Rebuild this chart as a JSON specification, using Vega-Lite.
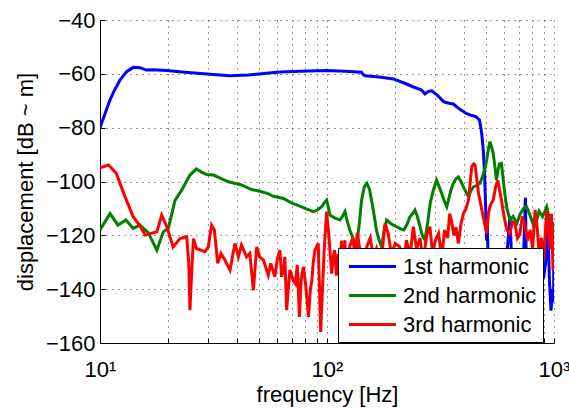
{
  "$schema": "https://vega.github.io/schema/vega-lite/v6.json",
  "width": 454,
  "height": 323,
  "autosize": {"type": "none"},
  "padding": {"left": 100, "top": 20, "right": 15, "bottom": 65},
  "config": {
    "font": "Liberation Sans",
    "view": {"stroke": null},
    "axis": {
      "domainColor": "#000",
      "domainWidth": 1,
      "tickColor": "#000",
      "tickSize": -5,
      "labelFontSize": 22,
      "labelColor": "#000",
      "labelFlush": false,
      "titleFontSize": 22,
      "titleFontWeight": "normal",
      "titleColor": "#000",
      "grid": true,
      "gridDash": [1, 5],
      "gridColor": "#333",
      "gridWidth": 1
    }
  },
  "datasets": {
    "h1": [
      {"f":10,"v":-80},{"f":10.5,"v":-75},{"f":11.07,"v":-69.7},{"f":11.6,"v":-66},{"f":12.25,"v":-62.3},{"f":13.1,"v":-59.2},{"f":14.0,"v":-57.6},{"f":15.0,"v":-57.7},{"f":16.0,"v":-58.6},{"f":17,"v":-58.5},{"f":19.7,"v":-58.8},{"f":23,"v":-59.3},{"f":29.5,"v":-60.1},{"f":37.4,"v":-60.7},{"f":45,"v":-60.4},{"f":54.2,"v":-59.8},{"f":62,"v":-59.3},{"f":76,"v":-59},{"f":99.6,"v":-58.8},{"f":120,"v":-59},{"f":142,"v":-59.4},{"f":144,"v":-60.2},{"f":147,"v":-60.7},{"f":170,"v":-61.2},{"f":196,"v":-61.9},{"f":220,"v":-63.5},{"f":239,"v":-64.8},{"f":261,"v":-66},{"f":270,"v":-67.5},{"f":280,"v":-66.5},{"f":289,"v":-66.3},{"f":305,"v":-67.8},{"f":327,"v":-70.4},{"f":345,"v":-70.9},{"f":360,"v":-71.2},{"f":385,"v":-73.2},{"f":411,"v":-74.7},{"f":435,"v":-75.5},{"f":453,"v":-75.9},{"f":470,"v":-77.2},{"f":480,"v":-82},{"f":488,"v":-88.3},{"f":495,"v":-98},{"f":500,"v":-110},{"f":505,"v":-122},{"f":508,"v":-116},{"f":512,"v":-126},{"f":520,"v":-135},{"f":540,"v":-140},{"f":560,"v":-130},{"f":580,"v":-145},{"f":600,"v":-132},{"f":620,"v":-127},{"f":640,"v":-113},{"f":650,"v":-128},{"f":680,"v":-140},{"f":700,"v":-130},{"f":730,"v":-135},{"f":748,"v":-106},{"f":755,"v":-130},{"f":780,"v":-138},{"f":810,"v":-128},{"f":840,"v":-142},{"f":870,"v":-130},{"f":900,"v":-136},{"f":925,"v":-128},{"f":940,"v":-115},{"f":955,"v":-137},{"f":970,"v":-148},{"f":985,"v":-140},{"f":995,"v":-145},{"f":1000,"v":-122}
    ],
    "h2": [
      {"f":10,"v":-118},{"f":11.07,"v":-111.9},{"f":12.0,"v":-116.2},{"f":13.0,"v":-114.3},{"f":14.0,"v":-117.4},{"f":15.0,"v":-116.2},{"f":16.3,"v":-119},{"f":17.8,"v":-125.5},{"f":19.0,"v":-118.7},{"f":20.0,"v":-117.4},{"f":21.4,"v":-107},{"f":22.9,"v":-103.2},{"f":24.9,"v":-97.6},{"f":26.6,"v":-95.3},{"f":28,"v":-96.5},{"f":29.5,"v":-97.4},{"f":31.6,"v":-97.6},{"f":34,"v":-98.8},{"f":36.8,"v":-100.1},{"f":42.0,"v":-101.3},{"f":46.5,"v":-103},{"f":50.6,"v":-103.6},{"f":55,"v":-104.5},{"f":58,"v":-105.5},{"f":64.3,"v":-106.3},{"f":70,"v":-108},{"f":75,"v":-109},{"f":80,"v":-110},{"f":87.1,"v":-111.2},{"f":91,"v":-110.5},{"f":94.8,"v":-109.4},{"f":97,"v":-108},{"f":99.6,"v":-106.9},{"f":101,"v":-109},{"f":103,"v":-112.5},{"f":108,"v":-113.5},{"f":114,"v":-114.3},{"f":117,"v":-113},{"f":120,"v":-111.2},{"f":123,"v":-115},{"f":126,"v":-118},{"f":130,"v":-121},{"f":135,"v":-124.3},{"f":139,"v":-115},{"f":142,"v":-106.9},{"f":146,"v":-102},{"f":150,"v":-100.7},{"f":154,"v":-103},{"f":157,"v":-106.9},{"f":161,"v":-112},{"f":165,"v":-118},{"f":170,"v":-122},{"f":174,"v":-124.3},{"f":178,"v":-119},{"f":183,"v":-114.3},{"f":190,"v":-115.5},{"f":196,"v":-116.2},{"f":203,"v":-116.8},{"f":210,"v":-117.5},{"f":218,"v":-118},{"f":225,"v":-116},{"f":232,"v":-113.1},{"f":238,"v":-112},{"f":244,"v":-110.6},{"f":250,"v":-113},{"f":257,"v":-116.8},{"f":263,"v":-120},{"f":270,"v":-121.8},{"f":278,"v":-115},{"f":285,"v":-108},{"f":294,"v":-103.2},{"f":304,"v":-99.5},{"f":312,"v":-102},{"f":320,"v":-104.4},{"f":328,"v":-107},{"f":337,"v":-109.4},{"f":345,"v":-106},{"f":352,"v":-103},{"f":360,"v":-100.7},{"f":370,"v":-99},{"f":379,"v":-98.3},{"f":389,"v":-100},{"f":399,"v":-102},{"f":410,"v":-104},{"f":420,"v":-105.7},{"f":430,"v":-103.5},{"f":442,"v":-102},{"f":455,"v":-101.5},{"f":472,"v":-100.7},{"f":485,"v":-98},{"f":497,"v":-95},{"f":505,"v":-92},{"f":514,"v":-88},{"f":522,"v":-85.2},{"f":530,"v":-87},{"f":540,"v":-89.6},{"f":550,"v":-95},{"f":558,"v":-99.5},{"f":566,"v":-96},{"f":575,"v":-93.5},{"f":587,"v":-93.3},{"f":595,"v":-98},{"f":607,"v":-104.4},{"f":620,"v":-110},{"f":640,"v":-114.3},{"f":660,"v":-113},{"f":685,"v":-115.6},{"f":710,"v":-112},{"f":735,"v":-110},{"f":757,"v":-109.4},{"f":780,"v":-112},{"f":810,"v":-116},{"f":839,"v":-114.3},{"f":860,"v":-111},{"f":890,"v":-113},{"f":929,"v":-109.4},{"f":955,"v":-114},{"f":980,"v":-119.3},{"f":1000,"v":-115}
    ],
    "h3": [
      {"f":10,"v":-94.9},{"f":10.9,"v":-93.9},{"f":11.8,"v":-97},{"f":12.9,"v":-105.7},{"f":14.0,"v":-113.1},{"f":15.0,"v":-116.5},{"f":15.8,"v":-119.9},{"f":17.8,"v":-118.7},{"f":18.7,"v":-112.5},{"f":19.7,"v":-116.8},{"f":21.0,"v":-124.3},{"f":22.5,"v":-121.2},{"f":24.1,"v":-120.5},{"f":24.6,"v":-130},{"f":24.9,"v":-147.8},{"f":25.3,"v":-135},{"f":25.8,"v":-121.2},{"f":26.6,"v":-124.9},{"f":29.0,"v":-126.1},{"f":30.0,"v":-124.3},{"f":31.0,"v":-116.2},{"f":31.9,"v":-118},{"f":33.0,"v":-130.4},{"f":34.1,"v":-126.7},{"f":35.5,"v":-129.2},{"f":37.4,"v":-132.9},{"f":39.3,"v":-123},{"f":40.7,"v":-128},{"f":42.0,"v":-123.6},{"f":44.2,"v":-128},{"f":45.7,"v":-126.7},{"f":47.4,"v":-140.4},{"f":49.0,"v":-124.3},{"f":50.5,"v":-128},{"f":52.5,"v":-129.2},{"f":55.1,"v":-134.8},{"f":56.5,"v":-130.4},{"f":58.9,"v":-135.4},{"f":60.5,"v":-128.6},{"f":62.0,"v":-125.5},{"f":63.1,"v":-135.4},{"f":64.5,"v":-131.7},{"f":65.2,"v":-128},{"f":66.4,"v":-147.8},{"f":68.6,"v":-132.9},{"f":70.9,"v":-136.7},{"f":72.5,"v":-137.9},{"f":74,"v":-131},{"f":75.6,"v":-150.3},{"f":77,"v":-136},{"f":78.7,"v":-131.7},{"f":80.5,"v":-138},{"f":82.9,"v":-150.3},{"f":84.5,"v":-140},{"f":85.8,"v":-136.7},{"f":87,"v":-130},{"f":88.5,"v":-125.5},{"f":91.5,"v":-123},{"f":93.8,"v":-155.9},{"f":95.5,"v":-140},{"f":97.2,"v":-125.5},{"f":99.6,"v":-111.2},{"f":102,"v":-120.5},{"f":104.8,"v":-134.2},{"f":106.5,"v":-128},{"f":108,"v":-125.5},{"f":110,"v":-135},{"f":112,"v":-127},{"f":114,"v":-131},{"f":116,"v":-122},{"f":118,"v":-138},{"f":120,"v":-121.8},{"f":122,"v":-157.7},{"f":124,"v":-130},{"f":126,"v":-124},{"f":130,"v":-121},{"f":133,"v":-128},{"f":136,"v":-119},{"f":140,"v":-126},{"f":145,"v":-132},{"f":150,"v":-124},{"f":155,"v":-121},{"f":160,"v":-128},{"f":165,"v":-125},{"f":172,"v":-133},{"f":180,"v":-115.6},{"f":186,"v":-119.3},{"f":192,"v":-127},{"f":200,"v":-123},{"f":209,"v":-124.3},{"f":216,"v":-132},{"f":224,"v":-121.8},{"f":232,"v":-128},{"f":240,"v":-116.8},{"f":248,"v":-125},{"f":257,"v":-121},{"f":265,"v":-130},{"f":275,"v":-120},{"f":284,"v":-116.8},{"f":292,"v":-127},{"f":300,"v":-122},{"f":310,"v":-119.3},{"f":320,"v":-128},{"f":330,"v":-118},{"f":340,"v":-121},{"f":347,"v":-111.9},{"f":353,"v":-114.3},{"f":362,"v":-120},{"f":370,"v":-117},{"f":379,"v":-123},{"f":389,"v":-116},{"f":399,"v":-111.9},{"f":410,"v":-110},{"f":420,"v":-106.9},{"f":428,"v":-100},{"f":434,"v":-94.5},{"f":443,"v":-93.5},{"f":449,"v":-93.9},{"f":457,"v":-99},{"f":465,"v":-104.4},{"f":472,"v":-107},{"f":481,"v":-110.6},{"f":493,"v":-115},{"f":505,"v":-119.3},{"f":514,"v":-112},{"f":522,"v":-109.4},{"f":530,"v":-108},{"f":540,"v":-106.9},{"f":553,"v":-102},{"f":566,"v":-99.5},{"f":575,"v":-103},{"f":587,"v":-106.9},{"f":597,"v":-111},{"f":607,"v":-114.3},{"f":620,"v":-118},{"f":640,"v":-119.3},{"f":655,"v":-115},{"f":673,"v":-115.6},{"f":690,"v":-121},{"f":708,"v":-119.3},{"f":725,"v":-113},{"f":748,"v":-116.8},{"f":765,"v":-122},{"f":785,"v":-118},{"f":805,"v":-125},{"f":826,"v":-110.6},{"f":845,"v":-118},{"f":860,"v":-127},{"f":880,"v":-121},{"f":900,"v":-129},{"f":929,"v":-110.6},{"f":945,"v":-118},{"f":960,"v":-125},{"f":975,"v":-112},{"f":990,"v":-133},{"f":1000,"v":-118}
    ]
  },
  "encoding": {
    "x": {
      "field": "f", "type": "quantitative",
      "scale": {"type": "log", "domain": [10, 1000], "nice": false},
      "axis": {
        "title": "frequency [Hz]",
        "values": [10,20,30,40,50,60,70,80,90,100,200,300,400,500,600,700,800,900,1000],
        "labelExpr": "datum.value == 10 ? '10¹' : datum.value == 100 ? '10²' : datum.value == 1000 ? '10³' : ''",
        "labelOverlap": false,
        "labelPadding": 21,
        "titlePadding": 4
      }
    },
    "y": {
      "field": "v", "type": "quantitative",
      "scale": {"domain": [-160, -40], "nice": false, "zero": false},
      "axis": {
        "title": "displacement [dB ~ m]",
        "values": [-160,-140,-120,-100,-80,-60,-40],
        "labelPadding": 10,
        "titlePadding": 8
      }
    },
    "color": {
      "type": "nominal",
      "scale": {
        "domain": ["1st harmonic", "2nd harmonic", "3rd harmonic"],
        "range": ["#0000ff", "#008000", "#ff0000"]
      },
      "legend": {
        "title": null,
        "orient": "none",
        "legendX": 238,
        "legendY": 228,
        "fillColor": "#fff",
        "strokeColor": "#000",
        "padding": 6,
        "labelFontSize": 22,
        "labelColor": "#000",
        "symbolType": "M-2.14,0H2.14",
        "symbolSize": 484,
        "symbolStrokeWidth": 3,
        "symbolOffset": 16,
        "labelOffset": 18,
        "rowPadding": 5
      }
    }
  },
  "layer": [
    {"data": {"name": "h1"}, "mark": {"type": "line", "strokeWidth": 3, "clip": true}, "encoding": {"color": {"datum": "1st harmonic"}}},
    {"data": {"name": "h2"}, "mark": {"type": "line", "strokeWidth": 3, "clip": true}, "encoding": {"color": {"datum": "2nd harmonic"}}},
    {"data": {"name": "h3"}, "mark": {"type": "line", "strokeWidth": 3, "clip": true}, "encoding": {"color": {"datum": "3rd harmonic"}}}
  ]
}
